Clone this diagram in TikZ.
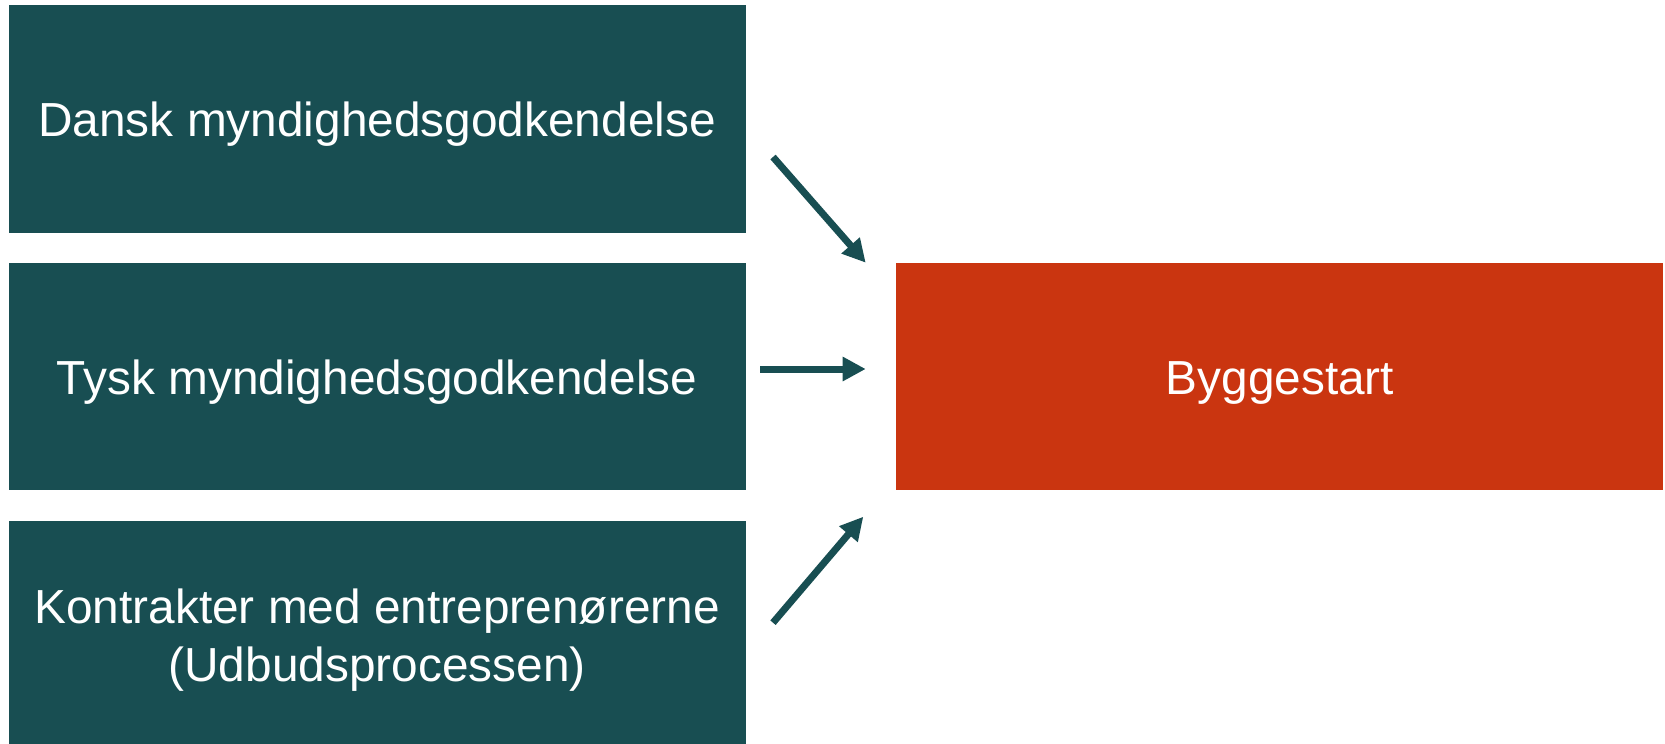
\documentclass[tikz,border=0pt]{standalone}
\usepackage{fontspec}
\setmainfont{Liberation Sans}
\usepackage{tikz}
\usetikzlibrary{arrows.meta,positioning}

\definecolor{tealbox}{HTML}{184E52}
\definecolor{redbox}{HTML}{CA3510}

\begin{document}
\begin{tikzpicture}[
        x=1pt, y=-1pt,
        node distance=30.3pt and 150.3pt,
        approval/.style={rectangle, fill=tealbox, text=white, inner sep=0pt, minimum width=737.2pt, minimum height=227.4pt, align=center, text height=45.5pt, text depth=10pt, font=\fontsize{47.8}{58.7}\selectfont},
        milestone/.style={rectangle, fill=redbox, text=white, inner sep=0pt, minimum width=767pt, minimum height=226.7pt, align=center, text height=45.5pt, text depth=10pt, font=\fontsize{47.8}{58.7}\selectfont},
        arrow/.style={-{Triangle[length=23pt, width=23pt]}, line width=7pt, color=tealbox}
    ]
    \useasboundingbox (0,0) rectangle (1665,744);

    % Approvals
    \node[approval] (dansk) at (377.1,119) {Dansk myndighedsgodkendelse};
    \node[approval, minimum height=226.7pt, below=of dansk] (tysk) {Tysk myndighedsgodkendelse};
    \node[approval, minimum height=223.5pt, text height=108.6pt, below=of tysk] (kontrakt) {Kontrakter med entreprenørerne\\(Udbudsprocessen)};

    % Start of construction
    \node[milestone, right=of tysk] (byggestart) {Byggestart};

    % Arrow ends
    \coordinate (dansk-out) at (773,157);
    \coordinate (tysk-out) at (760,369);
    \coordinate (kontrakt-out) at (773,622.7);
    \coordinate (bygge-in1) at (865.7,262.7);
    \coordinate (bygge-in2) at (865.7,369);
    \coordinate (bygge-in3) at (863.3,516.7);

    % Arrows
    \draw[arrow] (dansk-out) -- (bygge-in1);
    \draw[arrow] (tysk-out) -- (bygge-in2);
    \draw[arrow] (kontrakt-out) -- (bygge-in3);

\end{tikzpicture}
\end{document}
